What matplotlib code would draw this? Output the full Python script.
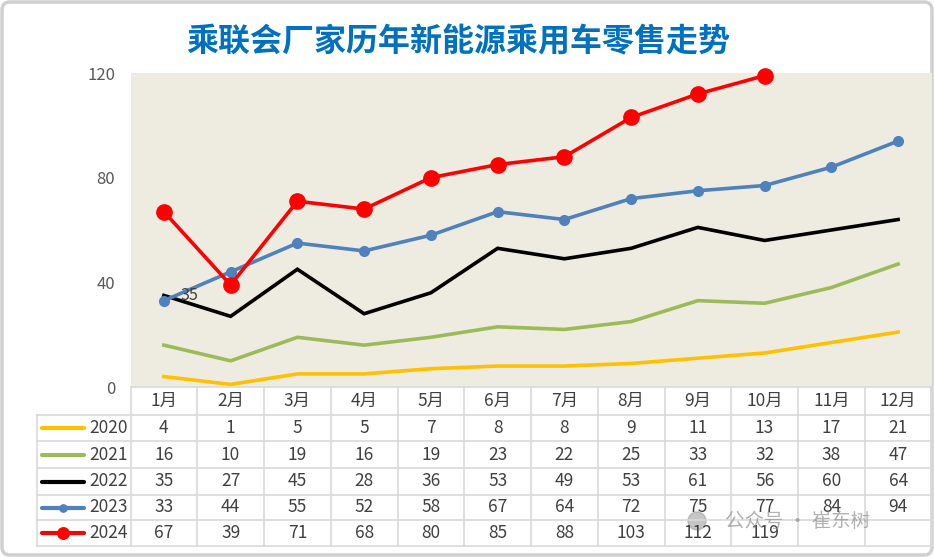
import matplotlib.pyplot as plt
from matplotlib.patches import FancyBboxPatch
import matplotlib as mpl

mpl.rcParams['font.family'] = ['Noto Sans CJK SC', 'DejaVu Sans']
mpl.rcParams['axes.unicode_minus'] = False

months = ['1月', '2月', '3月', '4月', '5月', '6月', '7月', '8月', '9月', '10月', '11月', '12月']
years = ['2020', '2021', '2022', '2023', '2024']
v2020 = [4, 1, 5, 5, 7, 8, 8, 9, 11, 13, 17, 21]
v2021 = [16, 10, 19, 16, 19, 23, 22, 25, 33, 32, 38, 47]
v2022 = [35, 27, 45, 28, 36, 53, 49, 53, 61, 56, 60, 64]
v2023 = [33, 44, 55, 52, 58, 67, 64, 72, 75, 77, 84, 94]
v2024 = [67, 39, 71, 68, 80, 85, 88, 103, 112, 119]
series = [v2020, v2021, v2022, v2023, v2024]
colors = ['#FFC000', '#9BBB59', '#000000', '#4F81BD', '#FF0000']
markers = [None, None, None, 'o', 'o']
msizes = [0, 0, 0, 7, 11]

W, H = 934, 557
fig = plt.figure(figsize=(W / 100, H / 100), dpi=100)

# plot area in pixels
x0, x1, ytop, ybot = 130.5, 931.5, 73, 387
ax = fig.add_axes([x0 / W, 1 - ybot / H, (x1 - x0) / W, (ybot - ytop) / H])
ax.set_facecolor('#EEECE1')
xs = list(range(12))
for vals, c, m, ms in zip(series, colors, markers, msizes):
    ax.plot(xs[:len(vals)], vals, color=c, lw=2.6, marker=m, markersize=ms,
            solid_joinstyle='miter', clip_on=False, zorder=3)
ax.text(0.25, v2022[0], str(v2022[0]), color='#404040', fontsize=11.5,
        va='center', ha='left', zorder=4)
ax.set_xlim(-0.5, 11.5)
ax.set_ylim(0, 120)
ax.set_yticks([0, 40, 80, 120])
ax.tick_params(axis='y', length=0, labelsize=12, labelcolor='#595959', pad=11)
ax.set_xticks([])
for s in ax.spines.values():
    s.set_visible(False)

# overlay for table, title, frame
ov = fig.add_axes([0, 0, 1, 1], zorder=-1)
ov.set_xlim(0, W)
ov.set_ylim(H, 0)
ov.axis('off')
ov2 = fig.add_axes([0, 0, 1, 1], zorder=5)
ov2.set_xlim(0, W)
ov2.set_ylim(H, 0)
ov2.axis('off')

ov.add_patch(FancyBboxPatch((2, 2), W - 4, H - 4, boxstyle='round,pad=0,rounding_size=8',
                            fc='white', ec='#D0D0D0', lw=2.5))

ov2.text(458, 42, '乘联会厂家历年新能源乘用车零售走势', fontsize=23, fontweight='bold',
         color='#0070C0', ha='center', va='center')

cw = (x1 - x0) / 12
rows = [387, 415, 441, 468, 495, 520, 546]
lab_x = 37
gc = '#D9D9D9'
# horizontal lines
ov2.plot([x0, x1], [rows[0], rows[0]], color=gc, lw=1.2)
for r in rows[1:]:
    ov2.plot([lab_x, x1], [r, r], color=gc, lw=1.2)
# vertical lines
ov2.plot([lab_x, lab_x], [rows[1], rows[-1]], color=gc, lw=1.2)
for i in range(13):
    xv = x0 + i * cw
    ov2.plot([xv, xv], [rows[0], rows[-1]], color=gc, lw=1.2)

tc = '#404040'
for i, mth in enumerate(months):
    ov2.text(x0 + (i + 0.5) * cw, (rows[0] + rows[1]) / 2, mth, fontsize=12.5,
             color=tc, ha='center', va='center')
for k, (yr, vals, c, m, ms) in enumerate(zip(years, series, colors, markers, msizes)):
    yc = (rows[k + 1] + rows[k + 2]) / 2
    ov2.plot([42, 84], [yc, yc], color=c, lw=3, solid_capstyle='round')
    if m:
        ov2.plot([63], [yc], color=c, marker=m, markersize=ms * 0.75)
    ov2.text(128, yc, yr, fontsize=12.5, color=tc, ha='right', va='center')
    for i, v in enumerate(vals):
        ov2.text(x0 + (i + 0.5) * cw, yc, str(v), fontsize=12.5, color=tc,
                 ha='center', va='center')

# watermark
ov2.add_patch(plt.Circle((697, 521), 9, color='#A0A0A0', alpha=0.6))
ov2.text(725, 521, '公众号 · 崔东树', fontsize=14, color='#909090', alpha=0.7,
         ha='left', va='center')

fig.savefig('out.png', dpi=100)
